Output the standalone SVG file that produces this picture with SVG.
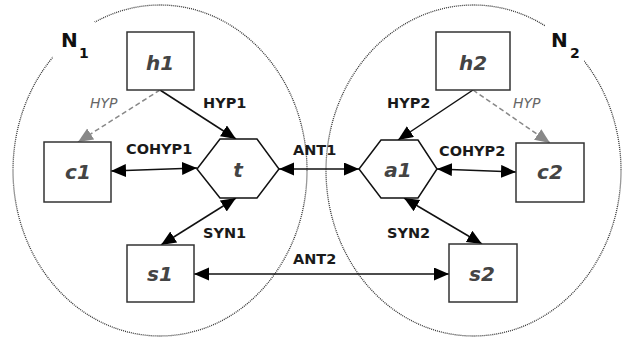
<svg xmlns="http://www.w3.org/2000/svg" width="628" height="338" viewBox="0 0 628 338">
<style>
.box{fill:#fff;stroke:#333;stroke-width:1.5}
.hex{fill:#fff;stroke:#111;stroke-width:1.5}
.nl{font-family:"DejaVu Sans",Verdana,sans-serif;font-weight:bold;font-style:italic;font-size:20px;fill:#444;text-anchor:middle}
.el{font-family:"DejaVu Sans",Verdana,sans-serif;font-weight:bold;font-size:14.5px;fill:#1a1a1a}
.hl{font-family:"DejaVu Sans",Verdana,sans-serif;font-style:italic;font-size:14px;fill:#666}
.net{font-family:"DejaVu Sans",Verdana,sans-serif;font-weight:bold;fill:#111}
.ell{fill:none;stroke:#333;stroke-width:1.3;stroke-dasharray:1,1}
.ln{fill:none;stroke:#111;stroke-width:1.5}
.dash{fill:none;stroke:#888;stroke-width:1.5;stroke-dasharray:5,3}
</style>
<defs>
<marker id="ah" markerUnits="userSpaceOnUse" markerWidth="16" markerHeight="14" refX="15" refY="6.5" orient="auto-start-reverse"><path d="M0,0 L15,6.5 L0,13 z" fill="#000"/></marker>
<marker id="ahg" markerUnits="userSpaceOnUse" markerWidth="16" markerHeight="14" refX="15" refY="6.5" orient="auto"><path d="M0,0 L15,6.5 L0,13 z" fill="#888"/></marker>
</defs>
<rect width="628" height="338" fill="#fff"/>
<g id="N1">
<ellipse class="ell" cx="160" cy="170.5" rx="147" ry="165.5"/>
<rect x="53" y="22" width="42" height="40" fill="#fff"/>
<text class="net" x="61" y="47" font-size="20">N</text>
<text class="net" x="79" y="58" font-size="14">1</text>
</g>
<g id="N2">
<ellipse class="ell" cx="473.5" cy="170.5" rx="147.5" ry="165.5"/>
<rect x="545" y="24" width="39" height="38" fill="#fff"/>
<text class="net" x="551" y="47" font-size="20">N</text>
<text class="net" x="570" y="58" font-size="14">2</text>
</g>
<g id="connectors">
<line class="ln" x1="160" y1="90" x2="236" y2="139" marker-end="url(#ah)"/>
<line class="dash" x1="160" y1="90" x2="78" y2="142" marker-end="url(#ahg)"/>
<line class="ln" x1="473" y1="90" x2="398" y2="140" marker-end="url(#ah)"/>
<line class="dash" x1="473" y1="90" x2="550" y2="143" marker-end="url(#ahg)"/>
<line class="ln" x1="111" y1="171" x2="197" y2="168" marker-start="url(#ah)" marker-end="url(#ah)"/>
<line class="ln" x1="437" y1="169" x2="516" y2="172" marker-start="url(#ah)" marker-end="url(#ah)"/>
<line class="ln" x1="279" y1="169" x2="359" y2="169" marker-start="url(#ah)" marker-end="url(#ah)"/>
<line class="ln" x1="236" y1="198" x2="161" y2="245" marker-start="url(#ah)" marker-end="url(#ah)"/>
<line class="ln" x1="404" y1="198" x2="482" y2="244" marker-start="url(#ah)" marker-end="url(#ah)"/>
<line class="ln" x1="194" y1="274" x2="449" y2="274" marker-start="url(#ah)" marker-end="url(#ah)"/>
<text class="hl" x="90" y="108">HYP</text>
<text class="el" x="203" y="108">HYP1</text>
<text class="el" x="387" y="108">HYP2</text>
<text class="hl" x="513" y="108">HYP</text>
<text class="el" x="126" y="154">COHYP1</text>
<text class="el" x="293" y="155">ANT1</text>
<text class="el" x="439" y="156">COHYP2</text>
<text class="el" x="203" y="238">SYN1</text>
<text class="el" x="387" y="238">SYN2</text>
<text class="el" x="293" y="264">ANT2</text>
</g>
<g id="h1"><rect class="box" x="127" y="32" width="67" height="58"/><text class="nl" x="160" y="70">h1</text></g>
<g id="h2"><rect class="box" x="436" y="32" width="74" height="58"/><text class="nl" x="473" y="70">h2</text></g>
<g id="c1"><rect class="box" x="44" y="142" width="67" height="60"/><text class="nl" x="78" y="179">c1</text></g>
<g id="c2"><rect class="box" x="516" y="143" width="68" height="59"/><text class="nl" x="550" y="179">c2</text></g>
<g id="s1"><rect class="box" x="127" y="245" width="67" height="57"/><text class="nl" x="160" y="281">s1</text></g>
<g id="s2"><rect class="box" x="449" y="244" width="68" height="58"/><text class="nl" x="482" y="281">s2</text></g>
<g id="t"><polygon class="hex" points="220,139 257,139 279,169 257,198 220,198 197,169"/><text class="nl" x="238" y="177">t</text></g>
<g id="a1"><polygon class="hex" points="381,140 418,140 437,169 418,198 381,198 359,169"/><text class="nl" x="398" y="177">a1</text></g>
</svg>
